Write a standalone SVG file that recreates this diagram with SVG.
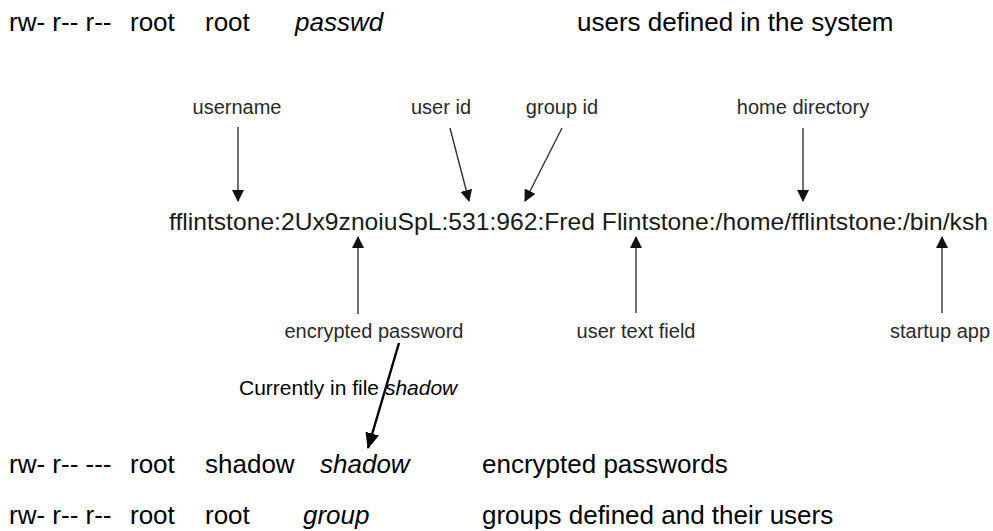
<svg xmlns="http://www.w3.org/2000/svg" width="993" height="531" viewBox="0 0 993 531">
<style>
text{font-family:"Liberation Sans",Arial,sans-serif;fill:#000}
.row{font-size:26px}
.it{font-style:italic}
.lbl{font-size:20px;fill:#2a2a2a}
.main{font-size:24.5px;fill:#1a1a1a}
.note{font-size:21px}
.thin{stroke:#333;stroke-width:1.4;fill:none}
.thick{stroke:#000;stroke-width:2.4;fill:none}
</style>
<defs>
<marker id="ah" markerWidth="12" markerHeight="12" viewBox="0 0 12 12" refX="11" refY="6" orient="auto" markerUnits="userSpaceOnUse">
<path d="M0,0 L12,6 L0,12 Z" fill="#111"/>
</marker>
<marker id="ahb" markerWidth="16" markerHeight="16" viewBox="0 0 16 16" refX="15" refY="8" orient="auto" markerUnits="userSpaceOnUse">
<path d="M0,1 L16,8 L0,15 Z" fill="#000"/>
</marker>
</defs>
<rect width="993" height="531" fill="#fff"/>

<g id="row-passwd" class="row">
<text x="9" y="31">rw- r-- r--</text>
<text x="130" y="31">root</text>
<text x="205" y="31">root</text>
<text x="295" y="31" class="it">passwd</text>
<text x="577" y="31">users defined in the system</text>
</g>

<g id="row-shadow" class="row">
<text x="9" y="473">rw- r-- ---</text>
<text x="130" y="473">root</text>
<text x="205" y="473">shadow</text>
<text x="320" y="473" class="it">shadow</text>
<text x="482" y="473">encrypted passwords</text>
</g>

<g id="row-group" class="row">
<text x="9" y="524">rw- r-- r--</text>
<text x="130" y="524">root</text>
<text x="205" y="524">root</text>
<text x="303" y="524" class="it">group</text>
<text x="482" y="524">groups defined and their users</text>
</g>

<g id="passwd-line">
<text class="main" x="169" y="230" textLength="819" lengthAdjust="spacingAndGlyphs">fflintstone:2Ux9znoiuSpL:531:962:Fred Flintstone:/home/fflintstone:/bin/ksh</text>
</g>

<g id="lbl-username"><text class="lbl" x="237" y="114" text-anchor="middle">username</text></g>
<g id="lbl-userid"><text class="lbl" x="441" y="114" text-anchor="middle">user id</text></g>
<g id="lbl-groupid"><text class="lbl" x="562" y="114" text-anchor="middle">group id</text></g>
<g id="lbl-home"><text class="lbl" x="803" y="114" text-anchor="middle">home directory</text></g>
<g id="lbl-encpw"><text class="lbl" x="374" y="338" text-anchor="middle">encrypted password</text></g>
<g id="lbl-usertext"><text class="lbl" x="636" y="338" text-anchor="middle">user text field</text></g>
<g id="lbl-startup"><text class="lbl" x="940" y="338" text-anchor="middle">startup app</text></g>

<g id="note">
<text class="note" x="239" y="395">Currently in file <tspan class="it">shadow</tspan></text>
</g>

<g id="connectors">
<line class="thin" x1="238" y1="127" x2="238" y2="201" marker-end="url(#ah)"/>
<line class="thin" x1="450" y1="128" x2="469" y2="201" marker-end="url(#ah)"/>
<line class="thin" x1="562" y1="128" x2="525" y2="201" marker-end="url(#ah)"/>
<line class="thin" x1="803" y1="128" x2="803" y2="201" marker-end="url(#ah)"/>
<line class="thin" x1="358" y1="314" x2="358" y2="237" marker-end="url(#ah)"/>
<line class="thin" x1="636" y1="313" x2="636" y2="237" marker-end="url(#ah)"/>
<line class="thin" x1="942" y1="313" x2="942" y2="237" marker-end="url(#ah)"/>
<line class="thick" x1="399" y1="343" x2="368" y2="448" marker-end="url(#ahb)"/>
</g>
</svg>
